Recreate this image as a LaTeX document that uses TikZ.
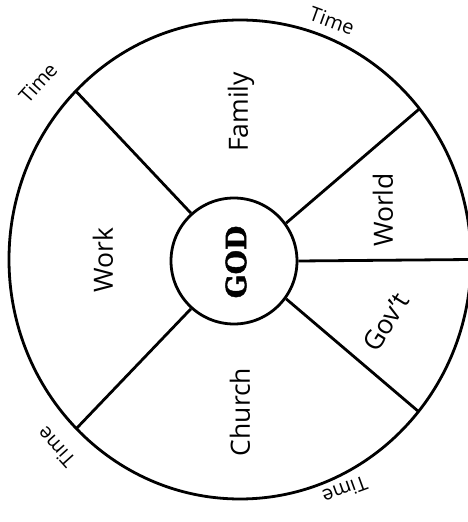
\documentclass[tikz,border=0pt]{standalone}
\usepackage{fontspec}
\setmainfont{Open Sans}
\newfontfamily\godfont[BoldFeatures={FakeBold=1.6}]{DejaVu Serif}
\usetikzlibrary{calc}
\begin{document}
\begin{tikzpicture}[x=1pt,y=1pt,
  ring/.style={line width=2.8pt},
  spoke/.style={line width=2.8pt},
  sector/.style={font=\fontsize{26.5}{26.5}\selectfont, inner sep=0pt},
  timelbl/.style={font=\fontsize{20}{20}\selectfont, inner sep=0pt}]
\useasboundingbox[fill=white] (0,0) rectangle (468,522);
% outer wheel
\coordinate (oc) at (240,262.5);
\draw[ring] (oc) ellipse [x radius=231, y radius=239.5];
% spoke ends on the rim
\coordinate (r1) at ($(oc)+(135.3:231 and 239.5)$);
\coordinate (r2) at ($(oc)+(39:231 and 239.5)$);
\coordinate (r3) at ($(oc)+(0:231 and 239.5)$);
\coordinate (r4) at ($(oc)+(-39.4:231 and 239.5)$);
\coordinate (r5) at ($(oc)+(-135.1:231 and 239.5)$);
% inner circle
\node[circle, draw, line width=2.8pt, minimum size=126pt, inner sep=0pt] (god) at (234,261) {};
\node[rotate=90, inner sep=0pt, font=\godfont\bfseries\fontsize{28}{28}\selectfont] (godtxt) at (236,260) {GOD};
% spokes
\draw[spoke] (god.132) -- (r1);
\draw[spoke] (god.36) -- (r2);
\draw[spoke] (god.0) -- (r3);
\draw[spoke] (god.-36) -- (r4);
\draw[spoke] (god.-132) -- (r5);
% sector labels
\node[sector, rotate=90] (family) at (241,410) {Family};
\node[sector, rotate=90] (work) at (103,262) {Work};
\node[sector, rotate=90] (church) at (240,110) {Church};
\node[sector, rotate=90] (world) at (383,312) {World};
\node[sector, rotate=58] (govt) at (386,200) {Gov’t};
% time labels
\node[timelbl, rotate=-20] (t1) at (332,501) {Time};
\node[timelbl, rotate=48] (t2) at (38,439) {Time};
\node[timelbl, rotate=132] (t3) at (56,75) {Time};
\node[timelbl, rotate=200] (t4) at (345,32) {Time};
\end{tikzpicture}
\end{document}
